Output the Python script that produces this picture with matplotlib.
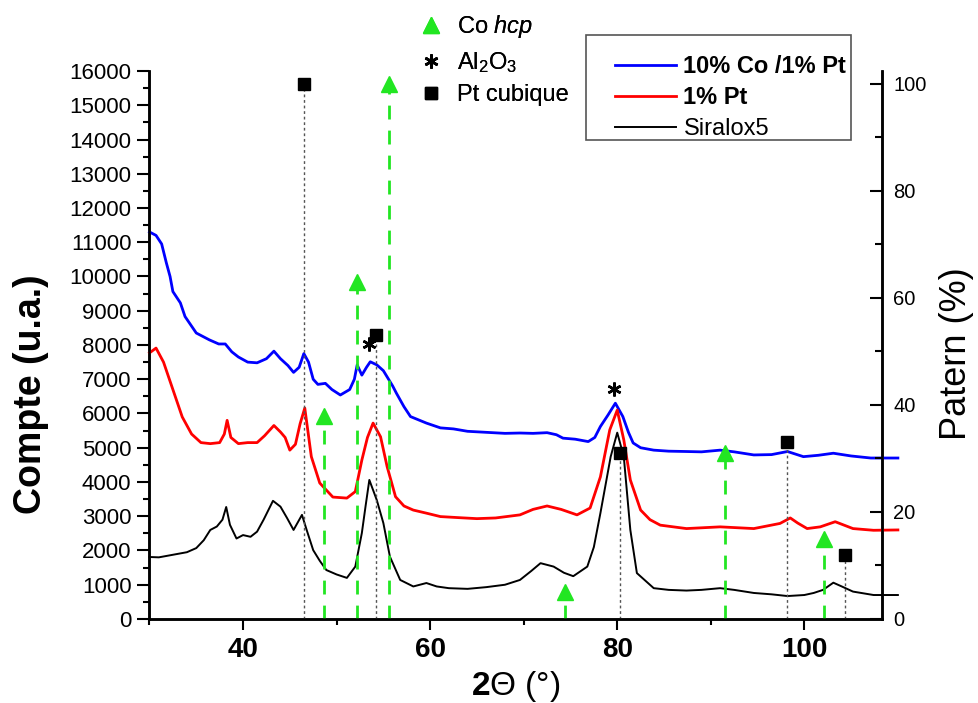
import numpy as np
import matplotlib
matplotlib.use('Agg')
import matplotlib.pyplot as plt
from matplotlib.lines import Line2D
from matplotlib.patches import Rectangle
from matplotlib.ticker import MultipleLocator

plt.rcParams['font.family'] = ['Liberation Sans', 'DejaVu Sans']
plt.rcParams['mathtext.fontset'] = 'custom'
plt.rcParams['mathtext.rm'] = 'Liberation Sans'
plt.rcParams['mathtext.it'] = 'Liberation Sans:italic'
plt.rcParams['mathtext.bf'] = 'Liberation Sans:bold'

# diffractograms (2theta in deg, counts)
blue_x = [30, 30.7, 31.3, 31.8, 32.2, 32.5, 33.3, 33.8, 35, 36.4, 37.4, 38.1, 38.8, 39.5,
          40.5, 41.5, 42.5, 43.3, 44, 44.8, 45.4, 46, 46.5, 47, 47.5, 48, 48.8, 49.5, 50.4,
          51.4, 51.9, 52.2, 52.7, 53.2, 53.6, 54.3, 55, 55.4, 56, 56.4, 57.2, 57.9, 59.6,
          61.1, 62.5, 64, 66, 68, 69.6, 71, 72.5, 73.5, 74.2, 75.5, 76.9, 77.6, 78.2, 79,
          79.8, 80.6, 81.2, 81.7, 82.5, 83.9, 85.5, 87.4, 89, 91, 92.5, 94.6, 96.5, 98.2,
          99.9, 101.5, 103.1, 105, 107.1, 110]
blue_y = [11300, 11200, 10950, 10400, 10000, 9560, 9230, 8830, 8350, 8150, 8030, 8030, 7800, 7650,
          7500, 7480, 7600, 7820, 7600, 7400, 7200, 7350, 7750, 7500, 7000, 6850, 6880, 6700, 6540,
          6700, 7000, 7420, 7120, 7350, 7510, 7420, 7250, 7070, 6800, 6590, 6200, 5910, 5720,
          5580, 5550, 5480, 5450, 5420, 5430, 5420, 5440, 5380, 5280, 5250, 5180, 5300, 5620, 5950,
          6300, 5910, 5450, 5140, 5000, 4930, 4900, 4890, 4880, 4930, 4880, 4790, 4800, 4890,
          4740, 4780, 4840, 4760, 4700, 4700]

red_x = [30, 30.7, 31.5, 32.5, 33.5, 34.5, 35.5, 36.5, 37.5, 38, 38.3, 38.7, 39.5, 40.5, 41.5,
         42.3, 43.3, 44, 44.5, 45, 45.6, 46.1, 46.6, 47.3, 48.2, 49.6, 51.1, 52, 52.7, 53.3,
         53.9, 54.7, 55.4, 56.3, 57.2, 58.2, 59.6, 61.1, 63, 65, 67, 69.6, 71, 72.5, 74, 75.7,
         77.1, 78.2, 79.2, 80, 80.7, 81.4, 82.5, 83.5, 84.6, 87.4, 91, 94.6, 97.4, 98.5, 99.3,
         100.3, 101.7, 103.3, 105.2, 107.4, 110]
red_y = [7770, 7910, 7500, 6700, 5900, 5400, 5150, 5120, 5150, 5400, 5800, 5300, 5120, 5150, 5150,
         5350, 5650, 5460, 5300, 4930, 5100, 5700, 6160, 4740, 3970, 3560, 3530, 3720, 4640, 5300,
         5720, 5320, 4450, 3570, 3300, 3180, 3090, 2990, 2960, 2930, 2950, 3040, 3200, 3300, 3200, 3040,
         3240, 4150, 5520, 6100, 5230, 4060, 3180, 2900, 2740, 2640, 2690, 2640, 2790, 2950, 2800,
         2640, 2690, 2840, 2640, 2590, 2600]

black_x = [30, 31, 32, 33, 34, 35, 35.8, 36.5, 37.2, 37.8, 38.2, 38.6, 39.3, 40, 40.8, 41.5,
           42.2, 43.2, 44, 44.7, 45.4, 46.3, 46.8, 47.5, 48.2, 48.9, 50, 51.1, 52, 52.7, 53.1,
           53.5, 54.3, 55, 55.7, 56.8, 58.2, 59.6, 60.7, 62, 64, 66, 68, 69.6, 70.8, 71.8, 73.2,
           74.3, 75.3, 76.8, 77.5, 78.2, 79.3, 80, 80.7, 81.4, 82.1, 83.9, 85.5, 87.4, 89, 91,
           92.5, 94.6, 96.5, 98.2, 100, 101, 102, 103.1, 104, 105.2, 107.4, 110]
black_y = [1810, 1800, 1850, 1900, 1950, 2070, 2300, 2600, 2700, 2900, 3270, 2750, 2350, 2450, 2400, 2550,
           2900, 3450, 3280, 2950, 2600, 3040, 2600, 2010, 1700, 1430, 1300, 1200, 1530, 2510, 3300,
           4060, 3470, 2800, 1820, 1140, 950, 1050, 950, 900, 880, 930, 1000, 1140, 1400, 1630, 1530,
           1350, 1250, 1530, 2100, 3090, 4740, 5440, 4740, 2600, 1340, 900, 850, 830, 850, 900,
           850, 760, 720, 670, 700, 760, 850, 1060, 950, 800, 700, 700]

# reference patterns (2theta, relative intensity %)
co_pos = [48.7, 52.2, 55.6, 74.4, 91.5, 102.1]
co_int = [38, 63, 100, 5, 31, 15]
pt_pos = [46.5, 54.2, 80.3, 98.2, 104.3]
pt_int = [100, 53, 31, 33, 12]
al_pos = [53.5, 79.7]
al_int = [51.4, 43]

green = '#22e622'

fig = plt.figure(figsize=(9.79, 7.03), dpi=100)
ax = fig.add_axes([0.1527, 0.1195, 0.7482, 0.7795])
ax2 = ax.twinx()

ax.plot(blue_x, blue_y, color='#0000ff', lw=2.0, clip_on=False, zorder=3)
ax.plot(red_x, red_y, color='#ff0000', lw=2.0, clip_on=False, zorder=3)
ax.plot(black_x, black_y, color='black', lw=1.4, clip_on=False, zorder=3)

ax2.vlines(pt_pos, 0, pt_int, colors='#555555', linestyles=(0, (2, 2)), lw=1.0)
ax2.vlines(co_pos, 0, co_int, colors=green, linestyles=(0, (5, 4)), lw=2.0)
ax2.plot(pt_pos, pt_int, 's', color='black', ms=8.5, ls='none', clip_on=False)
ax2.plot(co_pos, co_int, '^', color=green, ms=11, ls='none', clip_on=False)
ax2.plot(al_pos, al_int, marker=(6, 2, 0), color='black', ms=10, mew=1.8, ls='none')

ax.set_xlim(30, 108.3)
ax.set_ylim(0, 16000)
ax2.set_ylim(0, 102.4)

ax.xaxis.set_major_locator(MultipleLocator(20))
ax.xaxis.set_minor_locator(MultipleLocator(10))
ax.yaxis.set_major_locator(MultipleLocator(1000))
ax.yaxis.set_minor_locator(MultipleLocator(500))
ax2.yaxis.set_major_locator(MultipleLocator(20))
ax2.yaxis.set_minor_locator(MultipleLocator(10))

ax.tick_params(axis='x', which='major', direction='out', length=8, width=1.5, labelsize=20, pad=5)
ax.tick_params(axis='x', which='minor', direction='out', length=4, width=1.5)
ax.tick_params(axis='y', which='major', direction='out', length=9, width=1.5, labelsize=16, pad=4)
ax.tick_params(axis='y', which='minor', direction='out', length=4, width=1.5)
ax2.tick_params(axis='y', which='major', direction='in', length=9, width=1.5, labelsize=14.5, pad=8)
ax2.tick_params(axis='y', which='minor', direction='in', length=5, width=1.5)
for lab in ax.get_xticklabels():
    lab.set_fontweight('bold')

for a in (ax, ax2):
    a.spines['top'].set_visible(False)
    for s in ('left', 'right', 'bottom'):
        a.spines[s].set_linewidth(1.8)

ax.set_xlabel(r'$\mathbf{2}$Θ (°)', fontsize=24, labelpad=4)
ax.set_ylabel('Compte (u.a.)', fontsize=27, fontweight='bold')
ax.yaxis.set_label_coords(-0.137, 0.41)
ax2.set_ylabel('Patern (%)', fontsize=26)
ax2.yaxis.set_label_coords(1.078, 0.485)

# pattern legend above the plot
pat_handles = [Line2D([], [], marker='^', color=green, ls='none', ms=11),
               Line2D([], [], marker=(6, 2, 0), color='black', ls='none', ms=10, mew=1.8),
               Line2D([], [], marker='s', color='black', ls='none', ms=8.5)]
pat_labels = [r'Co $\mathit{hcp}$', r'Al$_2$O$_3$', 'Pt cubique']
leg1 = ax.legend(pat_handles, pat_labels, loc='upper left', bbox_to_anchor=(0.428, 0.981),
                 bbox_transform=fig.transFigure, frameon=False, fontsize=17,
                 handlelength=1.0, handletextpad=0.6, labelspacing=0.4, borderpad=0,
                 borderaxespad=0)
ax.add_artist(leg1)

# sample legend, frame drawn separately
fig.patches.append(Rectangle((0.5986, 0.8009), 0.2707, 0.1494, transform=fig.transFigure,
                             facecolor='white', edgecolor='#555555', lw=1.2, zorder=4))
line_handles = [Line2D([], [], color='#0000ff', lw=2.0),
                Line2D([], [], color='#ff0000', lw=2.0),
                Line2D([], [], color='black', lw=1.4)]
line_labels = ['10% Co /1% Pt', '1% Pt', 'Siralox5']
leg2 = fig.legend(line_handles, line_labels, loc='upper left', bbox_to_anchor=(0.6282, 0.922),
                  fontsize=17, handlelength=2.6, handletextpad=0.3, labelspacing=0.36,
                  borderpad=0, borderaxespad=0, frameon=False)
leg2.set_zorder(5)
for i, t in enumerate(leg2.get_texts()):
    if i < 2:
        t.set_fontweight('bold')

fig.savefig('out.png', dpi=100)
